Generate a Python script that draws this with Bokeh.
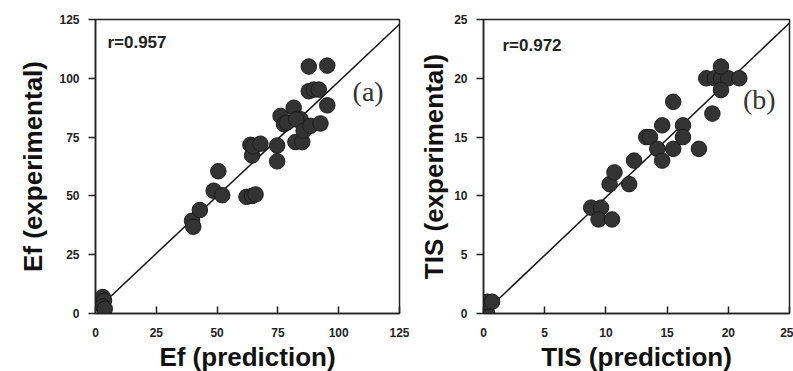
from bokeh.plotting import figure
from bokeh.layouts import row
from bokeh.models import Range1d, FixedTicker, Label, Title
from bokeh.embed import file_html
from bokeh.resources import INLINE

# ---------------- data ----------------
ef_pred = [3.0, 3.5, 3.0, 3.8, 39.7, 40.2, 42.9, 48.6, 50.5, 52.1, 62.1, 64.4, 65.8,
           63.7, 64.4, 64.8, 67.8, 74.7, 74.7, 76.1, 77.5, 78.8, 81.5, 84.3, 82.5,
           82.2, 85.0, 85.6, 88.4, 92.5, 95.3, 87.7, 89.8, 91.8, 87.7, 95.3]
ef_exp = [7.0, 5.5, 3.0, 2.0, 39.4, 36.9, 44.0, 52.2, 60.5, 50.3, 49.6, 50.0, 50.6,
          71.7, 67.2, 71.0, 72.2, 71.4, 64.7, 84.0, 80.5, 81.2, 87.5, 82.6, 82.5,
          72.9, 72.9, 77.7, 79.8, 80.8, 88.5, 94.5, 95.2, 95.2, 105.0, 105.4]
ef_fit_x = [6, 125]
ef_fit_y = [7, 123]
ef_ticks = [0, 25, 50, 75, 100, 125]

tis_pred = [0.3, 0.3, 0.7, 8.8, 9.6, 9.4, 10.5, 10.3, 10.7, 11.9, 12.3, 13.3, 13.6,
            14.2, 14.6, 14.6, 15.5, 15.5, 16.3, 16.3, 17.6, 18.7, 18.2, 18.9, 19.4,
            20.0, 20.9, 19.4, 19.4]
tis_exp = [0.0, 1.0, 1.0, 9.0, 9.0, 8.0, 8.0, 11.0, 12.0, 11.0, 13.0, 15.0, 15.0,
           14.0, 16.0, 13.0, 14.0, 18.0, 16.0, 15.0, 14.0, 17.0, 20.0, 20.0, 20.0,
           20.0, 20.0, 21.0, 19.0]
tis_fit_x = [1, 25]
tis_fit_y = [1, 24.7]
tis_ticks = [0, 5, 10, 15, 20, 25]

FONT = "Liberation Sans"
INK = "#222222"


def make_panel(xs, ys, fx, fy, ticks, lo_hi, xlabel, xoff, ylabel, yoff, ystand,
               rtext, rpos, tag, tagpos, width, bl, br, bt, bb):
    p = figure(width=width, height=371, output_backend="svg", toolbar_location=None,
               x_range=Range1d(*lo_hi), y_range=Range1d(*lo_hi),
               min_border_left=bl, min_border_right=br, min_border_top=bt,
               min_border_bottom=bb)
    p.grid.visible = False
    p.outline_line_color = INK
    p.outline_line_width = 1.5
    p.background_fill_color = "white"
    p.border_fill_color = "white"

    for ax in (p.xaxis[0], p.yaxis[0]):
        ax.ticker = FixedTicker(ticks=ticks)
        ax.minor_tick_line_color = None
        ax.axis_line_color = INK
        ax.axis_line_width = 1.5
        ax.major_tick_line_color = INK
        ax.major_tick_line_width = 1.5
        ax.major_label_text_font = FONT
        ax.major_label_text_font_style = "bold"
        ax.major_label_text_font_size = "12px"
        ax.major_label_text_color = INK

    p.xaxis.major_tick_in = 7
    p.xaxis.major_tick_out = 0
    p.xaxis.major_label_standoff = 14

    p.yaxis.major_tick_in = 0
    p.yaxis.major_tick_out = 7
    p.yaxis.major_label_standoff = 9

    p.line(fx, fy, line_color="#111111", line_width=1.5)
    p.scatter(xs, ys, size=15.5, fill_color="#333333", line_color="#1c1c1c",
              line_width=1)

    p.add_layout(Label(x=rpos[0], y=rpos[1], text=rtext, text_font=FONT,
                       text_font_style="bold", text_font_size="17px",
                       text_color=INK, text_baseline="middle"))
    p.add_layout(Label(x=tagpos[0], y=tagpos[1], text=tag,
                       text_font="Liberation Serif", text_font_size="28px",
                       text_color="#333333", text_baseline="middle"))
    p.add_layout(Title(text=xlabel, align="center", offset=xoff, standoff=0,
                       text_font=FONT, text_font_style="bold",
                       text_font_size="26px", text_color="#111111"), "below")
    p.add_layout(Title(text=ylabel, align="center", offset=yoff, standoff=ystand,
                       text_font=FONT, text_font_style="bold",
                       text_font_size="26px", text_color="#111111"), "left")
    return p


pa = make_panel(ef_pred, ef_exp, ef_fit_x, ef_fit_y, ef_ticks, (0, 125),
                "Ef (prediction)", -11, "Ef (experimental)", -28, 18,
                "r=0.957", (4.9, 115.3), "(a)", (105.7, 94.4),
                409, 95, 10, 19, 54)
pb = make_panel(tis_pred, tis_exp, tis_fit_x, tis_fit_y, tis_ticks, (0, 25),
                "TIS (prediction)", -4, "TIS (experimental)", -27, 6,
                "r=0.972", (1.55, 22.8), "(b)", (21.2, 18.2),
                384, 74, 4, 16, 57)

layout = row(pa, pb)
open("out.html", "w").write(file_html(layout, INLINE))
